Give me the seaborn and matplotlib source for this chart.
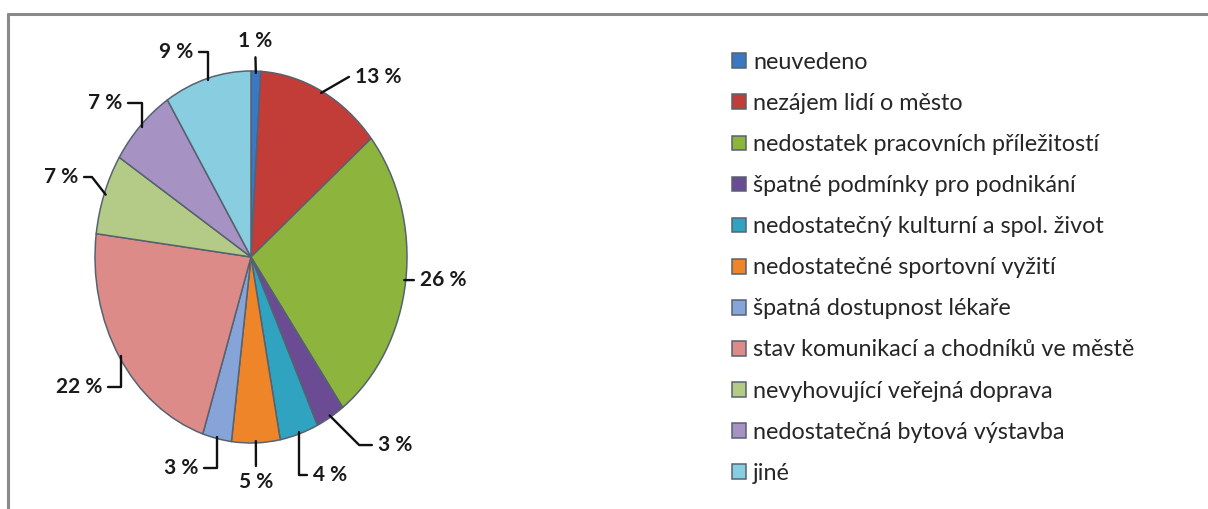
import numpy as np
import matplotlib
matplotlib.use('Agg')
import matplotlib.pyplot as plt
import seaborn as sns
from matplotlib.lines import Line2D

categories = ['neuvedeno', 'nezájem lidí o město', 'nedostatek pracovních příležitostí',
              'špatné podmínky pro podnikání', 'nedostatečný kulturní a spol. život',
              'nedostatečné sportovní vyžití', 'špatná dostupnost lékaře',
              'stav komunikací a chodníků ve městě', 'nevyhovující veřejná doprava',
              'nedostatečná bytová výstavba', 'jiné']
shares = [1, 13, 26, 3, 4, 5, 3, 22, 7, 7, 9]

colors = ['#3a78c4', '#c23d38', '#8db43c', '#6b4c94', '#2fa3c0', '#ef8529',
          '#86a4d8', '#dd8b89', '#b3cb86', '#a793c3', '#88cde0']

# label positions (pie units), alignment and leader-line angle (None = straight)
label_pos = [(0.026, 1.16), (0.667, 0.968), (1.083, -0.124), (0.814, -1.011),
             (0.397, -1.172), (0.032, -1.21), (-0.34, -1.134), (-0.955, -0.699),
             (-1.109, 0.43), (-0.827, 0.828), (-0.372, 1.102)]
label_ha = ['center', 'left', 'left', 'left', 'left', 'center', 'right', 'right',
            'right', 'right', 'right']
lead_angle = [None, 30, None, -45, 90, None, 90, 90, 128, 90, 90]

sns.set_theme(style='white')
plt.rcParams['font.family'] = ['Lato', 'DejaVu Sans']

fig = plt.figure(figsize=(12.08, 5.09), dpi=100)
W, H = 1208, 509
cx, cy, rx, ry = 251, 257, 156, 186
ax = fig.add_axes([(cx - rx) / W, (H - cy - ry) / H, 2 * rx / W, 2 * ry / H])

wedges, _ = ax.pie(shares, colors=colors, startangle=90, counterclock=False,
                   wedgeprops=dict(edgecolor='#566270', linewidth=1.1))
ax.set_aspect('auto')
ax.set_xlim(-1, 1)
ax.set_ylim(-1, 1)
ax.axis('off')

cum = np.cumsum([0] + shares[:-1])
for i, v in enumerate(shares):
    mid = np.deg2rad((cum[i] + v / 2) / sum(shares) * 360)
    px, py = np.sin(mid) * 0.99, np.cos(mid) * 0.99
    if lead_angle[i] is None:
        cs = 'arc3,rad=0'
    else:
        cs = f'angle,angleA=0,angleB={lead_angle[i]},rad=0'
    ax.annotate(f'{v} %', xy=(px, py), xytext=label_pos[i],
                ha=label_ha[i], va='center', fontsize=15, fontweight='bold',
                color='#1a1a1a', annotation_clip=False,
                arrowprops=dict(arrowstyle='-', color='#111111', lw=1.7,
                                shrinkA=2, shrinkB=0, connectionstyle=cs))

fig.legend(wedges, categories, loc='upper left', bbox_to_anchor=(732 / W, 1 - 52 / H),
           frameon=False, fontsize=16.8, handlelength=0.6, handleheight=0.6,
           handletextpad=0.3, labelspacing=0.86, borderaxespad=0, borderpad=0,
           labelcolor='#262626')

# grey frame on top and left like the source screenshot
fig.add_artist(Line2D([8 / W, 1], [1 - 14 / H, 1 - 14 / H], color='#8a8a8a', lw=2.2))
fig.add_artist(Line2D([8 / W, 8 / W], [0, 1 - 14 / H], color='#8a8a8a', lw=2.2))

fig.savefig('out.png', dpi=100)
